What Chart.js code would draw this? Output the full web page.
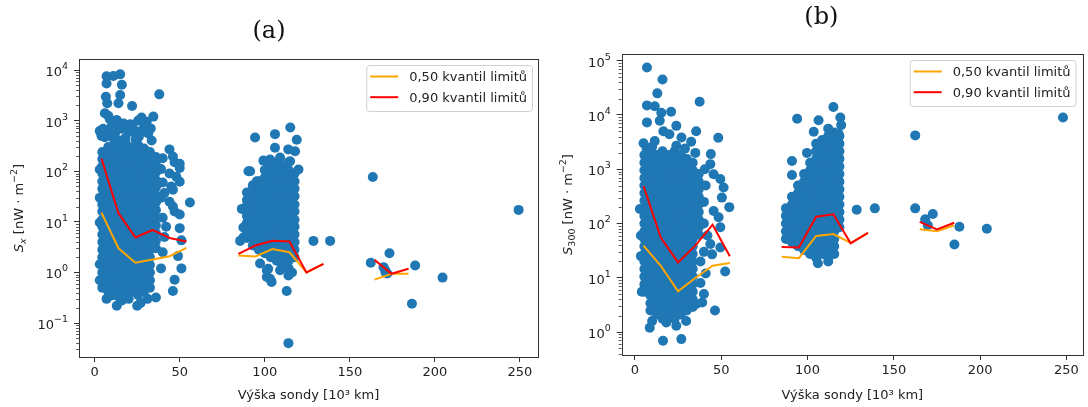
<!DOCTYPE html>
<html>
<head>
<meta charset="utf-8">
<script src="https://cdn.jsdelivr.net/npm/chart.js@4.4.0/dist/chart.umd.min.js"></script>
<style>
  body { margin: 0; background: #fff; }
  .panel { position: absolute; top: 0; width: 544px; height: 407px; }
</style>
</head>
<body>
<div class="panel" style="left:0"><canvas id="chartA" width="544" height="407"></canvas></div>
<div class="panel" style="left:544px"><canvas id="chartB" width="544" height="407"></canvas></div>
<script>
'use strict';

var legendLabels = ['0,50 kvantil limitů', '0,90 kvantil limitů'];
var xTicks = [0, 50, 100, 150, 200, 250];

// (a) quantile limits per altitude bin (null = gap between groups)
var binsA = [4, 14, 24, 34, 44, 54, null, 84.5, 94.5, 104.5, 114.5, 124.5, 134.5, null, 164.5, 174.5, 184.5];
var q50A = [15.2, 3.0, 1.55, 1.8, 2.09, 3.05, null, 2.15, 2.06, 2.9, 2.5, 1.0, 1.48, null, 0.72, 0.94, 0.94];
var q90A = [178, 14.8, 4.9, 6.9, 4.8, 4.1, null, 2.33, 3.4, 4.2, 4.1, 1.0, 1.48, null, 1.77, 0.94, 1.18];

// (a) dense part of the scatter, read column by column
var colsA = [4.5, 8, 11.5, 15, 18.5, 22, 25.5, 29, 32.5, 36,
  89.5, 93, 96.5, 100, 103.5, 107, 110.5, 114, 117.5];
var colValsA = [
  [0.5, 0.7, 1, 1.4, 2, 2.8, 4, 5.6, 8, 11, 16, 22, 32, 45, 63, 90, 125, 175, 240],
  [0.42, 0.6, 0.84, 1.2, 1.7, 2.4, 3.4, 4.7, 6.7, 9.5, 13, 19, 27, 38, 53, 75, 106, 150, 210, 300],
  [0.36, 0.5, 0.7, 1, 1.4, 2, 2.8, 4, 5.6, 8, 11, 16, 22, 32, 45, 63, 90, 125, 180, 250, 350],
  [0.3, 0.42, 0.6, 0.84, 1.2, 1.7, 2.4, 3.4, 4.7, 6.7, 9.5, 13, 19, 27, 38, 53, 75, 106, 150, 210, 300, 400],
  [0.36, 0.5, 0.7, 1, 1.4, 2, 2.8, 4, 5.6, 8, 11, 16, 22, 32, 45, 63, 90, 125, 180, 250, 340],
  [0.42, 0.6, 0.84, 1.2, 1.7, 2.4, 3.4, 4.7, 6.7, 9.5, 13, 19, 27, 38, 53, 75, 106, 150, 210, 290],
  [0.36, 0.5, 0.7, 1, 1.4, 2, 2.8, 4, 5.6, 8, 11, 16, 22, 32, 45, 63, 90, 125, 180, 250, 330],
  [0.42, 0.6, 0.84, 1.2, 1.7, 2.4, 3.4, 4.7, 6.7, 9.5, 13, 19, 27, 38, 53, 75, 106, 150, 210, 280],
  [0.5, 0.7, 1, 1.4, 2, 2.8, 4, 5.6, 8, 11, 16, 22, 32, 45, 63, 90, 125, 180, 240],
  [3, 4.2, 6, 8.5, 12, 17, 24, 34, 48, 67, 95, 135, 190],
  [4.8, 6.7, 9.5, 13, 19, 27, 38],
  [3.4, 4.7, 6.7, 9.5, 13, 19, 27, 38, 53],
  [2.8, 4, 5.6, 8, 11, 16, 22, 32, 45, 63],
  [2.4, 3.4, 4.7, 6.7, 9.5, 13, 19, 27, 38, 53, 75, 106],
  [2, 2.8, 4, 5.6, 8, 11, 16, 22, 32, 45, 63, 90, 125],
  [1.7, 2.4, 3.4, 4.7, 6.7, 9.5, 13, 19, 27, 38, 53, 75, 106, 150],
  [1.4, 2, 2.8, 4, 5.6, 8, 11, 16, 22, 32, 45, 63, 90, 125],
  [1.2, 1.7, 2.4, 3.4, 4.7, 6.7, 9.5, 13, 19, 27, 38, 53, 75, 106, 150],
  [2, 2.8, 4, 5.6, 8, 11, 16, 22, 32, 45, 63, 90]
];

// (a) scattered points around the dense part
var sparseA = [
  [7, 7500], [11, 7600], [15, 8200], [7, 5400], [16, 5100], [6.6, 2950], [7.4, 2200], [14, 2200],
  [15, 3200], [22, 1950], [38, 3300], [6, 1400], [8, 1250], [13, 1030], [27.6, 1150], [34.5, 1200],
  [30.6, 950], [3, 620], [4, 500], [14, 720], [22.7, 690], [31.5, 560], [12, 930], [16, 690],
  [20, 590], [25.6, 1000], [28.6, 930], [5, 690], [6, 470], [30.6, 590], [33.5, 405], [10, 480],
  [18, 450], [26, 480], [9, 1050], [24, 420], [9, 600], [12, 560], [19, 700], [24, 560], [28, 650],
  [33, 700], [21, 850], [17, 880], [10, 760],
  [44, 270], [47, 150], [50, 140], [46, 196], [50, 116], [44, 90], [48, 78], [50, 62], [45, 50],
  [46, 43], [41, 37], [44, 25], [46, 20], [47, 16], [56, 24], [50, 14], [50, 7.5], [51, 4.3],
  [49, 2.1], [51, 1.2], [47, 0.72], [46, 0.43], [40, 180], [40, 60], [40, 12], [41, 5], [40, 2.5],
  [39, 1.2], [42, 8], [39, 110], [39, 30],
  [7, 0.3], [13, 0.22], [16, 0.28], [25, 0.22], [27, 0.25], [31, 0.3], [36, 0.32], [20, 0.3],
  [10, 0.35], [3, 108], [3, 30], [3, 9.7], [3, 1.45], [3, 0.7],
  [115, 730], [94.3, 465], [106, 540], [118.8, 420], [106, 290], [113.8, 270], [117.8, 247],
  [91.4, 100], [99.2, 162], [103.1, 170], [109, 187], [114.9, 157], [119.8, 108], [88.4, 19],
  [87.4, 7.7], [87.4, 4.9], [93.3, 50], [91.4, 30], [86.5, 18], [85.5, 4.2], [90.4, 100], [95.3, 63],
  [97.2, 1.5], [102, 1.18], [101.2, 0.81], [104, 0.65], [109, 1.1], [113.9, 0.87], [112.9, 0.43],
  [113.9, 0.04], [101.2, 1.1], [103.1, 0.75], [116, 1.0], [110, 1.4], [128.6, 4.2], [138.4, 4.2],
  [163.5, 77], [162.3, 1.55], [173.3, 2.4], [169.8, 1.27], [170.8, 1.1], [172, 0.95], [171, 1.0],
  [188.4, 1.37], [204.5, 0.79], [186.5, 0.24], [249.2, 17.2]
];

// (b) quantile limits
var binsB = [5, 15, 25, 35, 45, 55, null, 85, 95, 105, 115, 125, 135, null, 165, 175, 185];
var q50B = [39, 16.6, 5.6, 9.9, 16.6, 18.7, null, 24.5, 23, 59, 64, 44, 67, null, 78, 72, 93];
var q90B = [490, 55, 19.2, 39, 95, 25, null, 37, 36, 133, 148, 43, 67, null, 107, 78, 103];

// (b) dense part of the scatter
var colsB = [5.5, 9, 12.5, 16, 19.5, 23, 26.5, 30, 33.5, 37,
  87.5, 91, 94.5, 98, 101.5, 105, 108.5, 112, 115.5, 118.5];
var colValsB = [
  [5.5, 7.6, 10.5, 14.5, 20, 27.5, 38, 52, 72, 100, 138, 190, 263, 363, 500, 690, 955, 1320, 1820],
  [2.5, 3.4, 4.7, 6.5, 9, 12.3, 17, 23.5, 32.5, 45, 62, 85, 117, 162, 224, 310, 427, 590, 815, 1125, 1550, 2140],
  [2.1, 2.9, 4, 5.5, 7.6, 10.5, 14.5, 20, 27.5, 38, 52, 72, 100, 138, 190, 263, 363, 500, 690, 955, 1320, 1820],
  [1.75, 2.5, 3.4, 4.7, 6.5, 9, 12.3, 17, 23.5, 32.5, 45, 62, 85, 117, 162, 224, 310, 427, 590, 815, 1125, 1550, 2140],
  [2.1, 2.9, 4, 5.5, 7.6, 10.5, 14.5, 20, 27.5, 38, 52, 72, 100, 138, 190, 263, 363, 500, 690, 955, 1320, 1820],
  [1.75, 2.5, 3.4, 4.7, 6.5, 9, 12.3, 17, 23.5, 32.5, 45, 62, 85, 117, 162, 224, 310, 427, 590, 815, 1125, 1550, 2140],
  [2.1, 2.9, 4, 5.5, 7.6, 10.5, 14.5, 20, 27.5, 38, 52, 72, 100, 138, 190, 263, 363, 500, 690, 955, 1320, 1820],
  [2.5, 3.4, 4.7, 6.5, 9, 12.3, 17, 23.5, 32.5, 45, 62, 85, 117, 162, 224, 310, 427, 590, 815, 1125, 1550],
  [2.9, 4, 5.5, 7.6, 10.5, 14.5, 20, 27.5, 38, 52, 72, 100, 138, 190, 263, 363, 500, 690, 955, 1320],
  [62, 85, 117, 162, 224, 310, 427, 590, 815],
  [52, 72, 100, 138, 190],
  [45, 62, 85, 117, 162, 224, 310],
  [38, 52, 72, 100, 138, 190, 263, 363, 500],
  [32.5, 45, 62, 85, 117, 162, 224, 310, 427, 590, 815],
  [27.5, 38, 52, 72, 100, 138, 190, 263, 363, 500, 690, 955, 1320],
  [23.5, 32.5, 45, 62, 85, 117, 162, 224, 310, 427, 590, 815, 1125, 1550, 2140, 2960],
  [27.5, 38, 52, 72, 100, 138, 190, 263, 363, 500, 690, 955, 1320, 1820, 2500, 3450],
  [23.5, 32.5, 45, 62, 85, 117, 162, 224, 310, 427, 590, 815, 1125, 1550, 2140, 2960, 4100],
  [27.5, 38, 52, 72, 100, 138, 190, 263, 363, 500, 690, 955, 1320, 1820, 2500, 3450, 4760],
  [85, 117, 162, 224, 310, 427, 590, 815, 1125, 1550, 2140, 2960, 4100]
];

var sparseB = [
  [7, 75000], [16, 45000], [13, 25000], [7, 15000], [11.5, 14500], [21, 11500], [15.3, 11000],
  [14.4, 7800], [37.5, 17500], [7, 7300], [24, 6300], [35.5, 5000], [48.3, 3800], [16.5, 5000],
  [11.5, 3300], [20, 4400], [27, 3850], [32.6, 3200], [6.7, 2500], [5, 3000], [10, 2600], [24, 2700],
  [29, 2400], [35, 2000],
  [44, 1900], [43.7, 1240], [45.6, 810], [49.5, 660], [51.4, 460], [50.4, 300], [54.7, 200],
  [45.6, 170], [48.5, 130], [49.5, 85], [43.7, 42], [44.7, 27], [49.5, 36], [52.3, 13], [46.4, 2.5],
  [40, 30], [40, 100], [40, 250], [41, 12], [40, 5], [40.5, 1000], [41, 500], [42, 60], [38, 20],
  [38, 8], [39, 3.5],
  [2.9, 185], [4, 5.5], [3.5, 60], [3.5, 25], [8.6, 1.2], [16.3, 0.69], [26.9, 0.74], [29.7, 1.6],
  [18.2, 1.5], [35.5, 3.3], [10, 1.6], [24, 1.3],
  [115, 14000], [94, 8500], [106.4, 8000], [119, 9000], [91, 1420], [91, 780], [99.7, 2000],
  [103.6, 4900], [112, 5600], [119.5, 6500], [118, 4500], [106, 18.5], [112, 20], [128.5, 180], [139, 190],
  [162.4, 4200], [162.4, 190], [168.2, 120], [172.6, 150], [169.7, 93], [188, 87], [185.1, 41],
  [203.9, 80], [248, 9000]
];

Chart.defaults.font.family = '"DejaVu Sans", sans-serif';
Chart.defaults.font.size = 13;
Chart.defaults.color = '#222';

var FONT = '"DejaVu Sans", sans-serif';

function decadeTicks(min, max) {
  var out = [];
  for (var e = Math.ceil(Math.log10(min)); Math.pow(10, e) <= max; e++) {
    out.push({ value: Math.pow(10, e), major: true });
  }
  return out;
}

function buildScatter(cols, vals, sparse) {
  var pts = [];
  cols.forEach(function (x, i) {
    vals[i].forEach(function (y) { pts.push({ x: x, y: y }); });
  });
  sparse.forEach(function (p) { pts.push({ x: p[0], y: p[1] }); });
  return pts;
}

function buildLine(xs, ys) {
  return xs.map(function (x, i) { return { x: x, y: ys[i] }; });
}

// draws a run of text pieces: [text, fontSize, baselineShift, italic]
function drawPieces(ctx, pieces, x, y) {
  pieces.forEach(function (p) {
    ctx.font = (p[3] ? 'italic ' : '') + p[1] + 'px ' + FONT;
    ctx.fillText(p[0], x, y + p[2]);
    x += ctx.measureText(p[0]).width;
  });
  return x;
}

function piecesWidth(ctx, pieces) {
  var w = 0;
  pieces.forEach(function (p) {
    ctx.font = (p[3] ? 'italic ' : '') + p[1] + 'px ' + FONT;
    w += ctx.measureText(p[0]).width;
  });
  return w;
}

// axes box, minor log ticks, power-of-ten labels and the y title
var axesPlugin = {
  id: 'axesText',
  afterDraw: function (chart) {
    var ctx = chart.ctx, a = chart.chartArea, y = chart.scales.y;
    var opt = chart.options.plugins.axesText;
    ctx.save();
    ctx.strokeStyle = '#333';
    ctx.lineWidth = 1;
    ctx.strokeRect(Math.round(a.left) + 0.5, Math.round(a.top) + 0.5,
      Math.round(a.right - a.left), Math.round(a.bottom - a.top));
    ctx.lineWidth = 0.8;
    for (var e = Math.floor(Math.log10(y.min)); e <= Math.ceil(Math.log10(y.max)); e++) {
      for (var k = 2; k < 10; k++) {
        var v = k * Math.pow(10, e);
        if (v < y.min || v > y.max) continue;
        var py = Math.round(y.getPixelForValue(v)) + 0.5;
        ctx.beginPath();
        ctx.moveTo(a.left - 3, py);
        ctx.lineTo(a.left, py);
        ctx.stroke();
      }
    }

    ctx.fillStyle = '#222';
    ctx.textBaseline = 'alphabetic';
    ctx.textAlign = 'left';
    y.ticks.forEach(function (t) {
      var exp = String(Math.round(Math.log10(t.value))).replace('-', '\u2212');
      var pieces = [['10', 13, 0, false], [exp, 9.5, -7, false]];
      var ty = y.getPixelForValue(t.value);
      var w = piecesWidth(ctx, pieces);
      drawPieces(ctx, pieces, a.left - 11 - w, ty + 6);
    });

    var title = opt.yTitle;
    var tw = piecesWidth(ctx, title);
    ctx.translate(opt.yTitleX, (a.top + a.bottom) / 2);
    ctx.rotate(-Math.PI / 2);
    drawPieces(ctx, title, -tw / 2, 4.5);
    ctx.restore();
  }
};

var legendPlugin = {
  id: 'insideLegend',
  afterDraw: function (chart) {
    var ctx = chart.ctx, a = chart.chartArea;
    var inset = chart.options.plugins.insideLegend.inset;
    ctx.save();
    ctx.font = '13px ' + FONT;
    var textW = Math.max(ctx.measureText(legendLabels[0]).width, ctx.measureText(legendLabels[1]).width);
    var w = 43 + textW + 5, h = 46;
    var x0 = a.right - inset - w, y0 = a.top + 6;
    ctx.beginPath();
    ctx.roundRect(x0 + 0.5, y0 + 0.5, w, h, 3);
    ctx.fillStyle = 'rgba(255,255,255,0.8)';
    ctx.fill();
    ctx.strokeStyle = '#d0d0d0';
    ctx.lineWidth = 1;
    ctx.stroke();
    var colors = ['orange', 'red'];
    ctx.textBaseline = 'middle';
    for (var i = 0; i < 2; i++) {
      var ly = y0 + 11.5 + i * 20.7;
      ctx.beginPath();
      ctx.strokeStyle = colors[i];
      ctx.lineWidth = 2;
      ctx.moveTo(x0 + 4, ly);
      ctx.lineTo(x0 + 32, ly);
      ctx.stroke();
      ctx.fillStyle = '#222';
      ctx.fillText(legendLabels[i], x0 + 43, ly + 1);
    }
    ctx.restore();
  }
};

function makeChart(id, p) {
  var ctx = document.getElementById(id).getContext('2d');
  return new Chart(ctx, {
    type: 'scatter',
    data: {
      datasets: [{
        type: 'line',
        label: legendLabels[1],
        data: buildLine(p.bins, p.q90),
        borderColor: 'red',
        borderWidth: 2,
        pointRadius: 0,
        fill: false,
        spanGaps: false,
        tension: 0
      }, {
        type: 'line',
        label: legendLabels[0],
        data: buildLine(p.bins, p.q50),
        borderColor: 'orange',
        borderWidth: 2,
        pointRadius: 0,
        fill: false,
        spanGaps: false,
        tension: 0
      }, {
        label: 'data',
        data: buildScatter(p.cols, p.colVals, p.sparse),
        pointRadius: 5,
        pointBackgroundColor: '#1f77b4',
        pointBorderWidth: 0,
        showLine: false
      }]
    },
    options: {
      responsive: false,
      animation: false,
      events: [],
      layout: { padding: { left: p.padLeft, right: p.padRight, top: 0, bottom: 0 } },
      plugins: {
        legend: { display: false },
        tooltip: { enabled: false },
        title: {
          display: true,
          text: p.title,
          color: '#111',
          font: { family: '"DejaVu Serif", serif', size: 24, weight: 'normal', lineHeight: 1.2 },
          padding: { top: p.titleTop, bottom: p.titleBottom }
        },
        insideLegend: { inset: p.legendInset },
        axesText: { yTitle: p.yTitle, yTitleX: p.yTitleX }
      },
      scales: {
        x: {
          type: 'linear',
          min: p.xMin,
          max: p.xMax,
          afterBuildTicks: function (axis) {
            axis.ticks = xTicks.map(function (v) { return { value: v }; });
          },
          afterFit: function (axis) { axis.height = p.xHeight; },
          ticks: { padding: 3, maxRotation: 0, autoSkip: false },
          grid: { drawOnChartArea: false, tickLength: 5, tickColor: '#333', tickWidth: 1 },
          border: { display: false },
          title: { display: true, text: 'Výška sondy [10³ km]', padding: { top: 0, bottom: 4 } }
        },
        y: {
          type: 'logarithmic',
          min: p.yMin,
          max: p.yMax,
          afterBuildTicks: function (axis) { axis.ticks = decadeTicks(axis.min, axis.max); },
          afterFit: function (axis) { axis.width = p.yWidth; },
          ticks: { display: false },
          grid: { drawOnChartArea: false, tickLength: 5, tickColor: '#333', tickWidth: 1 },
          border: { display: false }
        }
      }
    },
    plugins: [axesPlugin, legendPlugin]
  });
}

makeChart('chartA', {
  title: '(a)', bins: binsA, q50: q50A, q90: q90A,
  cols: colsA, colVals: colValsA, sparse: sparseA,
  padLeft: 0, padRight: 6, titleTop: 17.6, titleBottom: 12.6,
  xMin: -9.2, xMax: 260.6, xHeight: 50,
  yMin: 0.0213, yMax: 16500, yWidth: 79,
  yTitle: [['S', 13, 0, true], ['x', 9.5, 3, true], [' [nW · m', 13, 0, false], ['\u22122', 9.5, -6, false], [']', 13, 0, false]],
  yTitleX: 18, legendInset: 6
});

makeChart('chartB', {
  title: '(b)', bins: binsB, q50: q50B, q90: q90B,
  cols: colsB, colVals: colValsB, sparse: sparseB,
  padLeft: 12, padRight: 1.3, titleTop: 3.6, titleBottom: 21.6,
  xMin: -7.64, xMax: 259.6, xHeight: 52,
  yMin: 0.377, yMax: 132900, yWidth: 65.7,
  yTitle: [['S', 13, 0, true], ['300', 9.5, 3, false], [' [nW · m', 13, 0, false], ['\u22122', 9.5, -6, false], [']', 13, 0, false]],
  yTitleX: 23, legendInset: 7.5
});
</script>
</body>
</html>
